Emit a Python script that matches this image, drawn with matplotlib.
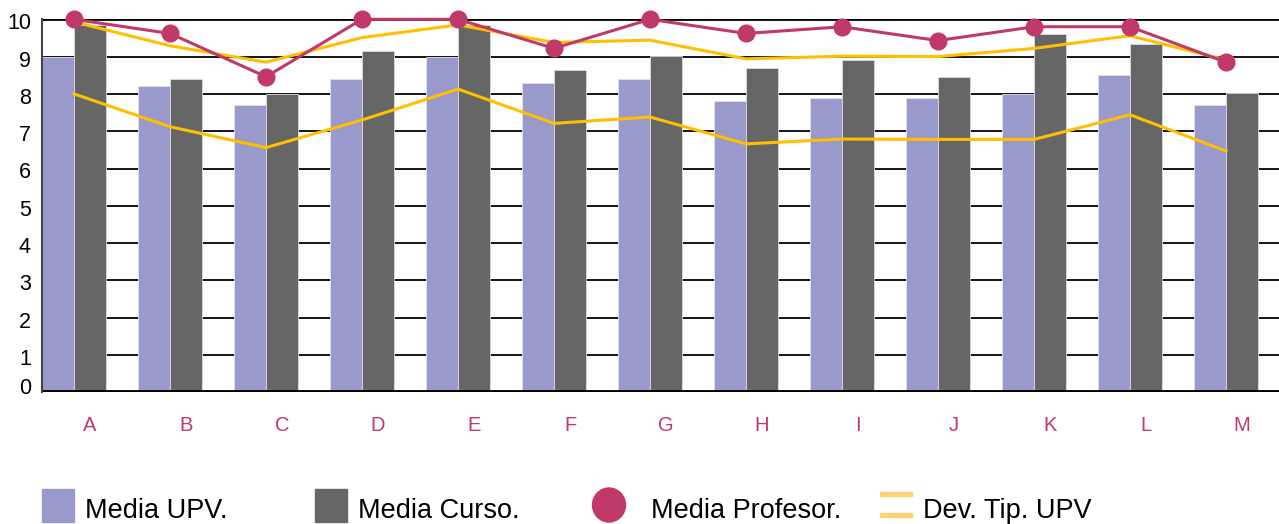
import matplotlib
matplotlib.use("Agg")
import matplotlib.pyplot as plt
import numpy as np
from matplotlib.patches import Rectangle, Ellipse
from matplotlib.transforms import ScaledTranslation

plt.rcParams['font.family'] = ['Liberation Sans', 'DejaVu Sans']

categories = ["A", "B", "C", "D", "E", "F", "G", "H", "I", "J", "K", "L", "M"]
media_upv = [9.0, 8.2, 7.7, 8.4, 9.0, 8.3, 8.4, 7.8, 7.9, 7.9, 8.0, 8.5, 7.7]
media_curso = [9.85, 8.41, 8.0, 9.16, 9.85, 8.63, 9.02, 8.69, 8.92, 8.45, 9.61, 9.35, 8.02]
media_profesor = [10.0, 9.62, 8.46, 10.0, 10.0, 9.22, 10.0, 9.62, 9.80, 9.43, 9.80, 9.80, 8.85]
dev_upper = [9.93, 9.29, 8.85, 9.51, 9.85, 9.38, 9.44, 8.94, 9.01, 9.0, 9.22, 9.56, 8.91]
dev_lower = [8.0, 7.12, 6.56, 7.30, 8.13, 7.21, 7.38, 6.66, 6.79, 6.78, 6.78, 7.44, 6.47]
yticks = list(range(0, 11))
legend_labels = ["Media UPV.", "Media Curso.", "Media Profesor.", "Dev. Tip. UPV"]

C_UPV = "#9999CC"
C_CURSO = "#666666"
C_PROF = "#C0396A"
C_DEV = "#FFC000"
C_DEV_LEG = "#FFD27A"

W, H = 1279, 524
fig = plt.figure(figsize=(W / 100, H / 100), dpi=100)
x0, x1 = 42, 1290
ytop, ybot = 19.3, 392.3
ax = fig.add_axes([x0 / W, (H - ybot) / H, (x1 - x0) / W, (ybot - ytop) / H])

x = np.arange(len(categories))
bw = 1 / 3
ax.bar(x - 0.5, media_upv, width=bw, align='edge', color=C_UPV,
       edgecolor="#E4E4EE", linewidth=0.6, zorder=2)
ax.bar(x - 0.5 + bw, media_curso, width=bw, align='edge', color=C_CURSO,
       edgecolor="#DDDDDD", linewidth=0.6, zorder=2)

xl = x - 0.5 + bw
ax.plot(xl, dev_upper, color=C_DEV, lw=2.2, zorder=3, clip_on=False)
ax.plot(xl, dev_lower, color=C_DEV, lw=2.2, zorder=3, clip_on=False)
ax.plot(xl, media_profesor, color=C_PROF, lw=2.2, marker='o', markersize=12,
        zorder=4, clip_on=False)

ax.set_xlim(-0.5, len(categories) - 0.5)
ax.set_ylim(0, 10)
for v in yticks[1:]:
    ax.axhline(v, color="black", lw=1.3 if v < 10 else 2.0, zorder=1)
ax.axhline(0, color="black", lw=2.8, zorder=5)

ax.set_yticks(yticks)
ax.set_yticklabels([str(v) for v in yticks], fontsize=15.5)
ax.set_xticks(x)
ax.set_xticklabels(categories, fontsize=14.5, color=C_PROF)
ax.tick_params(axis='y', length=0, pad=8)
ax.tick_params(axis='x', length=0, pad=17)
for s in ['top', 'right', 'bottom']:
    ax.spines[s].set_visible(False)
ax.spines['left'].set_color("#444444")
ax.spines['left'].set_linewidth(1.5)
ax.spines['left'].set_zorder(6)

# small vertical offsets of y tick labels as in reference
for i, lab in enumerate(ax.get_yticklabels()):
    dy = 6 if i == 0 else -2
    lab.set_transform(lab.get_transform() + ScaledTranslation(0, dy / 100, fig.dpi_scale_trans))

# legend (figure pixel coords)
def fx(px):
    return px / W

def fy(py):
    return (H - py) / H

fs = 19.5
ty = 518
fig.patches.append(Rectangle((fx(42), fy(522)), 32 / W, 33 / H, color=C_UPV,
                             transform=fig.transFigure, figure=fig))
fig.text(fx(85), fy(ty), legend_labels[0], fontsize=fs, va='baseline', ha='left')
fig.patches.append(Rectangle((fx(315), fy(522)), 32 / W, 33 / H, color=C_CURSO,
                             transform=fig.transFigure, figure=fig))
fig.text(fx(358), fy(ty), legend_labels[1], fontsize=fs, va='baseline', ha='left')
fig.patches.append(Ellipse((fx(609), fy(505)), 33 / W, 34 / H, color=C_PROF,
                           transform=fig.transFigure, figure=fig))
fig.text(fx(651), fy(ty), legend_labels[2], fontsize=fs, va='baseline', ha='left')
fig.patches.append(Rectangle((fx(880), fy(496)), 32 / W, 4 / H, color=C_DEV_LEG,
                             transform=fig.transFigure, figure=fig))
fig.patches.append(Rectangle((fx(880), fy(517)), 32 / W, 4 / H, color=C_DEV_LEG,
                             transform=fig.transFigure, figure=fig))
fig.text(fx(923), fy(ty), legend_labels[3], fontsize=fs, va='baseline', ha='left')

fig.savefig("out.png", dpi=100)
